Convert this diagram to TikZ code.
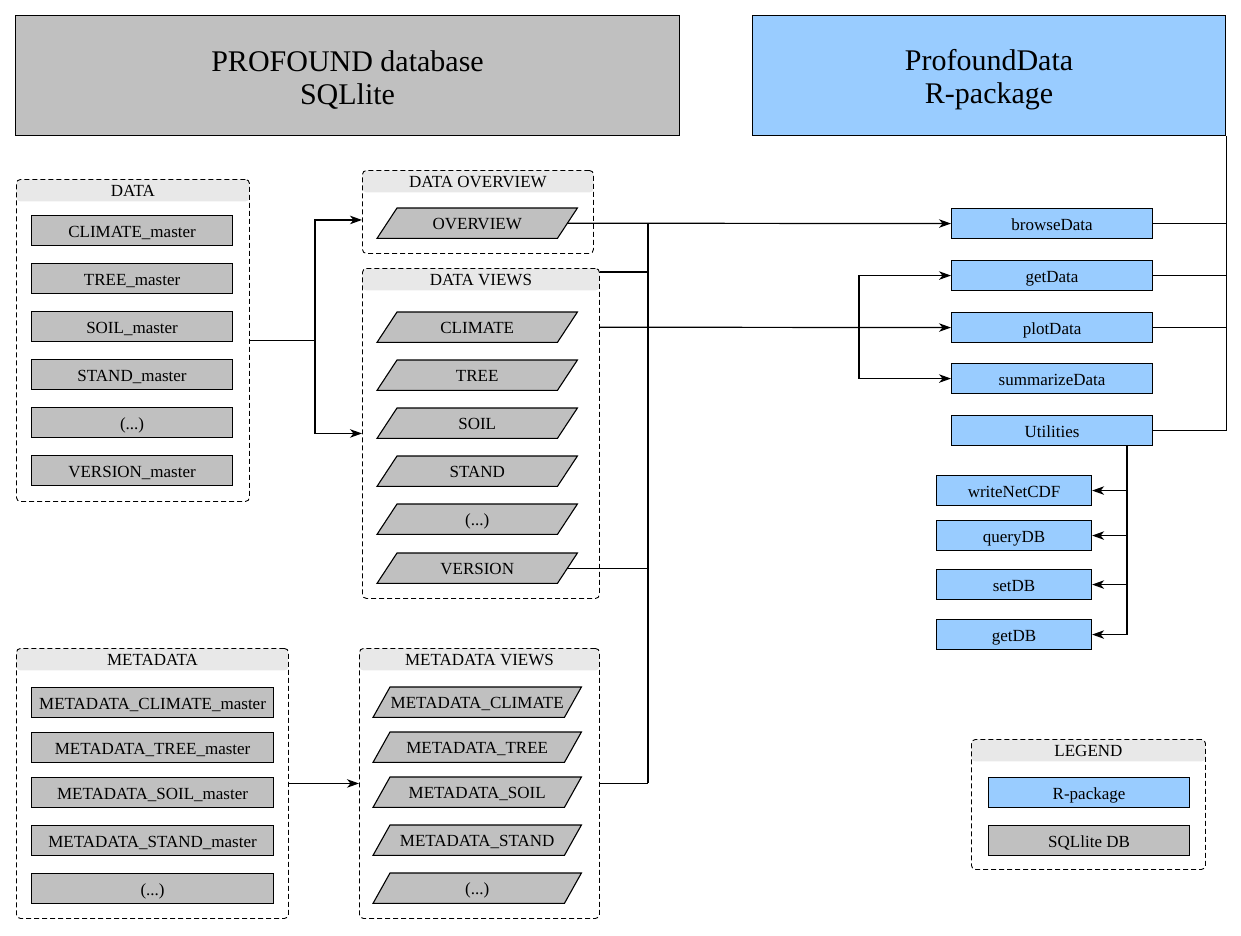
\documentclass[tikz,border=0pt]{standalone}
\usepackage{fontspec}
\setmainfont{Liberation Serif}
\usetikzlibrary{arrows.meta}
\pgfdeclarelayer{background}
\pgfsetlayers{background,main}
\definecolor{dbgrey}{HTML}{C0C0C0}
\definecolor{rblue}{HTML}{99CCFF}
\definecolor{hdrgrey}{HTML}{E8E8E8}
\tikzset{
  every node/.style={font=\fontsize{17}{20}\selectfont},
  tx/.style={text height=14pt, text depth=1pt},
  box/.style={draw, tx, line width=1.1pt, anchor=north west, inner sep=0pt, minimum height=30pt},
  dbbox/.style={box, fill=dbgrey},
  rbox/.style={box, fill=rblue},
  titlebox/.style={draw, line width=1.1pt, anchor=north west, inner sep=0pt, minimum height=120pt},
  titletext/.style={align=center, inner sep=0pt, font=\fontsize{30}{33}\selectfont},
  grp/.style={draw, dash pattern=on 5pt off 3pt, line width=0.9pt, rounded corners=4pt, anchor=north west, inner sep=0pt,
    path picture={\fill[hdrgrey] (path picture bounding box.north west) rectangle ([yshift=-22pt]path picture bounding box.north east);}},
  hdrtext/.style={tx, inner sep=0pt},
  pgtext/.style={tx, anchor=north west, inner sep=0pt, minimum height=30pt},
  pgshape/.style={draw, fill=dbgrey, line width=1.1pt},
  conn/.style={line width=1.2pt},
  arr/.style={conn, -{Stealth[length=12pt,width=8.5pt,inset=3.5pt]}},
}
\newcommand{\pgm}[6]{%
  \node[pgtext, minimum width=#4pt] (#1) at (#2,#3) {#6};
  \begin{pgfonlayer}{background}
  \filldraw[pgshape] (#1.south west) -- ([xshift=#5pt]#1.north west) -- (#1.north east) -- ([xshift=-#5pt]#1.south east) -- cycle;
  \end{pgfonlayer}}
\begin{document}
\begin{tikzpicture}[x=1pt,y=-1pt]
\useasboundingbox (0,0) rectangle (1241,935);
% titles
\node[titlebox, fill=dbgrey, minimum width=664pt] (db) at (15,15) {};
\node[titletext] (dbt) at ([yshift=-4pt]db.center) {PROFOUND database\\SQLlite};
\node[titlebox, fill=rblue, minimum width=473pt] (rpkg) at (752,15) {};
\node[titletext] (rpkgt) at ([yshift=-4pt]rpkg.center) {ProfoundData\\R-package};

% groups
\node[grp, minimum width=233pt, minimum height=322pt] (gdata) at (16,179) {};
\node[hdrtext] (gdatah) at ([yshift=-11pt]gdata.north) {DATA};
\node[grp, minimum width=231pt, minimum height=83pt] (gov) at (362,170) {};
\node[hdrtext] (govh) at ([yshift=-11pt]gov.north) {DATA OVERVIEW};
\node[grp, minimum width=237pt, minimum height=330pt] (gviews) at (362,268) {};
\node[hdrtext] (gviewsh) at ([yshift=-11pt]gviews.north) {DATA VIEWS};
\node[grp, minimum width=272pt, minimum height=270pt] (gmeta) at (16,648) {};
\node[hdrtext] (gmetah) at ([yshift=-11pt]gmeta.north) {METADATA};
\node[grp, minimum width=240pt, minimum height=270pt] (gmv) at (359,648) {};
\node[hdrtext] (gmvh) at ([yshift=-11pt]gmv.north) {METADATA VIEWS};
\node[grp, minimum width=234pt, minimum height=130pt] (gleg) at (971,739) {};
\node[hdrtext] (glegh) at ([yshift=-11pt]gleg.north) {LEGEND};

% DATA items
\node[dbbox, minimum width=201pt] (dclim) at (31,215) {CLIMATE\_master};
\node[dbbox, minimum width=201pt] (dtree) at (31,263) {TREE\_master};
\node[dbbox, minimum width=201pt] (dsoil) at (31,311) {SOIL\_master};
\node[dbbox, minimum width=201pt] (dstand) at (31,359) {STAND\_master};
\node[dbbox, minimum width=201pt] (ddots) at (31,407) {(...)};
\node[dbbox, minimum width=201pt] (dver) at (31,455) {VERSION\_master};

% overview & views
\pgm{ov}{377}{208}{200}{20}{OVERVIEW}
\pgm{vclim}{377}{312}{200}{20}{CLIMATE}
\pgm{vtree}{377}{360}{200}{20}{TREE}
\pgm{vsoil}{377}{408}{200}{20}{SOIL}
\pgm{vstand}{377}{456}{200}{20}{STAND}
\pgm{vdots}{377}{504}{200}{20}{(...)}
\pgm{vver}{377}{553}{200}{20}{VERSION}

% METADATA items
\node[dbbox, minimum width=242pt] (mclim) at (31,687) {METADATA\_CLIMATE\_master};
\node[dbbox, minimum width=242pt] (mtree) at (31,732) {METADATA\_TREE\_master};
\node[dbbox, minimum width=242pt] (msoil) at (31,777) {METADATA\_SOIL\_master};
\node[dbbox, minimum width=242pt] (mstand) at (31,825) {METADATA\_STAND\_master};
\node[dbbox, minimum width=242pt] (mdots) at (31,873) {(...)};

% METADATA views
\pgm{mvclim}{373}{687}{208}{17}{METADATA\_CLIMATE}
\pgm{mvtree}{373}{732}{208}{17}{METADATA\_TREE}
\pgm{mvsoil}{373}{777}{208}{17}{METADATA\_SOIL}
\pgm{mvstand}{373}{825}{208}{17}{METADATA\_STAND}
\pgm{mvdots}{373}{873}{208}{17}{(...)}

% R functions
\node[rbox, minimum width=201pt] (browse) at (951,208) {browseData};
\node[rbox, minimum width=201pt] (getd) at (951,260) {getData};
\node[rbox, minimum width=201pt] (plotd) at (951,312) {plotData};
\node[rbox, minimum width=201pt] (summ) at (951,363) {summarizeData};
\node[rbox, minimum width=201pt] (util) at (951,415) {Utilities};
\node[rbox, minimum width=155pt] (wnc) at (936,475) {writeNetCDF};
\node[rbox, minimum width=155pt] (qdb) at (936,520) {queryDB};
\node[rbox, minimum width=155pt] (sdb) at (936,569) {setDB};
\node[rbox, minimum width=155pt] (gdb) at (936,619) {getDB};

% legend
\node[rbox, minimum width=201pt] (legr) at (988,777) {R-package};
\node[dbbox, minimum width=201pt] (legd) at (988,825) {SQLlite DB};

% connectors: DATA -> overview / views
\coordinate (jdata) at ([xshift=65pt]gdata.east);
\draw[conn] (gdata.east) -- (jdata);
\draw[arr] (jdata) |- ([yshift=-8pt]gov.west);
\draw[arr] (jdata) |- (gviews.west);
\draw[arr] (gmeta.east) -- (gmv.west);

% bus from views to browseData
\coordinate (bx) at (648,0);
\coordinate (ovr) at ([xshift=-10pt]ov.east);
\coordinate (verr) at ([xshift=-10pt]vver.east);
\coordinate (vtop) at ([yshift=-4pt]gviews.north east);
\coordinate (bustop) at (ovr -| bx);
\draw[arr] (ovr) -- (browse.west);
\draw[conn] (bustop) -- (bustop |- gmv.east);
\draw[conn] (vtop) -- (vtop -| bx);
\draw[conn] (verr) -- (verr -| bx);
\draw[conn] (gmv.east) -- (gmv.east -| bx);

% views -> plotData, getData, summarizeData
\coordinate (jx) at (859,0);
\coordinate (vcr) at (gviews.east |- vclim.east);
\coordinate (jplot) at (vcr -| jx);
\draw[arr] (vcr) -- (plotd.west);
\draw[arr] (jplot) |- (getd.west);
\draw[arr] (jplot) |- (summ.west);

% right bus to R-package
\coordinate (rbus) at (rpkg.south east);
\draw[conn] (rbus) -- (rbus |- util.east);
\draw[conn] (browse.east) -- (rbus |- browse.east);
\draw[conn] (getd.east) -- (rbus |- getd.east);
\draw[conn] (plotd.east) -- (rbus |- plotd.east);
\draw[conn] (util.east) -- (rbus |- util.east);

% utilities
\coordinate (ub) at ([xshift=75pt]util.south);
\draw[arr] (ub) |- (wnc.east);
\draw[arr] (ub) |- (qdb.east);
\draw[arr] (ub) |- (sdb.east);
\draw[arr] (ub) |- (gdb.east);
\end{tikzpicture}
\end{document}
